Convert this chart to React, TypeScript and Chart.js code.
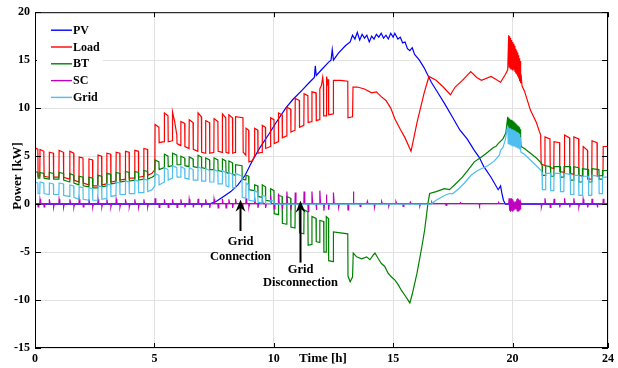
import React, { useEffect, useRef } from "react";
import { Chart, registerables } from "chart.js";

Chart.register(...registerables);

const FONT = '"Liberation Serif", "Times New Roman", serif';

const xTicks = [0, 5, 10, 15, 20, 24];
const yTicks = [-15, -10, -5, 0, 5, 10, 15, 20];

const seriesNames = ["PV", "Load", "BT", "SC", "Grid"];
const seriesColors = ["#0000ff", "#ff0000", "#008000", "#bf00bf", "#4dbeee"];

const pvData = [
  [0, 0], [7.3, 0], [7.6, 0.3], [7.9, 0.8], [8.2, 1.3], [8.5, 2.0], [8.8, 3.0], [9.1, 4.5], [9.4, 5.8],
  [9.8, 7.3], [10.1, 8.5], [10.5, 10.0], [10.8, 10.9], [11.2, 11.9], [11.5, 12.7], [11.7, 13.2], [11.74, 14.4],
  [11.78, 13.4], [12.0, 14.0], [12.3, 14.8], [12.4, 15.0], [12.45, 16.1], [12.5, 15.0], [12.7, 15.7], [13.0, 16.5],
  [13.2, 16.9], [13.3, 17.6], [13.4, 17.2], [13.5, 17.9], [13.6, 17.1], [13.7, 17.7], [13.8, 17.3], [13.9, 17.6],
  [14.0, 16.9], [14.1, 17.5], [14.2, 17.2], [14.3, 17.7], [14.4, 17.4], [14.5, 17.8], [14.6, 17.3], [14.7, 17.6],
  [14.8, 17.2], [14.9, 17.8], [15.0, 17.4], [15.07, 17.8], [15.2, 17.2], [15.3, 17.4], [15.4, 16.8], [15.5, 16.9],
  [15.6, 16.2], [15.7, 16.0], [15.8, 16.3], [15.9, 15.6], [16.1, 15.0], [16.3, 14.2], [16.6, 12.7], [16.9, 11.5],
  [17.15, 10.5], [17.5, 9.0], [17.8, 7.7], [18.1, 6.8], [18.4, 5.6], [18.6, 4.9], [18.8, 3.9], [19.1, 2.8],
  [19.4, 1.5], [19.5, 1.9], [19.55, 1.2], [19.62, 0.4], [19.7, 0], [24, 0],
];

const loadData = [
  [0, 5.9], [0.12, 5.7], [0.13, 2.9], [0.2, 2.9],
  [0.21, 5.7], [0.37, 5.5], [0.38, 2.9], [0.59, 2.8],
  [0.6, 5.4], [0.77, 5.3], [0.78, 2.8], [1.0, 2.8],
  [1.01, 5.6], [1.19, 5.4], [1.2, 2.8], [1.45, 2.6],
  [1.46, 5.5], [1.62, 5.3], [1.63, 2.5], [1.84, 2.3],
  [1.85, 4.9], [2.01, 4.8], [2.02, 2.2], [2.25, 2.0],
  [2.26, 4.7], [2.41, 4.6], [2.42, 1.9], [2.63, 1.9],
  [2.64, 5.1], [2.79, 5.0], [2.8, 2.0], [3.0, 2.1],
  [3.01, 5.3], [3.17, 5.2], [3.18, 2.3], [3.39, 2.4],
  [3.4, 5.4], [3.55, 5.3], [3.56, 2.5], [3.78, 2.6],
  [3.79, 5.5], [3.94, 5.4], [3.95, 2.7], [4.17, 2.7],
  [4.18, 5.6], [4.33, 5.5], [4.34, 2.8], [4.55, 2.9],
  [4.56, 5.8], [4.71, 5.7], [4.72, 3.0], [4.9, 3.2], [5.02, 3.6],
  [5.03, 8.3], [5.19, 8.0], [5.2, 6.4], [5.41, 6.5],
  [5.42, 9.5], [5.57, 9.2], [5.58, 6.5], [5.75, 6.6],
  [5.76, 9.6], [5.85, 8.6], [5.94, 7.2], [5.95, 6.3], [6.1, 6.1],
  [6.11, 8.6], [6.27, 8.4], [6.28, 6.0], [6.45, 5.8],
  [6.46, 8.8], [6.62, 8.5], [6.63, 5.7], [6.82, 5.5],
  [6.83, 9.5], [6.97, 9.1], [6.98, 5.4], [7.14, 5.3],
  [7.15, 8.7], [7.31, 8.5], [7.32, 5.3], [7.49, 5.4],
  [7.5, 8.9], [7.66, 8.6], [7.67, 5.5], [7.84, 5.4],
  [7.85, 9.4], [7.99, 9.0], [8.0, 5.4], [8.11, 5.3],
  [8.12, 9.3], [8.27, 9.0], [8.28, 5.3], [8.39, 5.4],
  [8.4, 9.1], [8.71, 9.0], [8.72, 5.4], [8.83, 5.1],
  [8.84, 7.9], [8.95, 7.7], [8.96, 4.4], [9.1, 4.5], [9.19, 5.0],
  [9.2, 7.9], [9.33, 7.7], [9.34, 5.3], [9.51, 5.4],
  [9.52, 8.2], [9.65, 8.0], [9.66, 5.8], [9.86, 6.0],
  [9.87, 9.0], [10.01, 8.8], [10.02, 6.3], [10.19, 6.5],
  [10.2, 9.5], [10.35, 9.3], [10.36, 6.9], [10.54, 7.1],
  [10.55, 10.1], [10.71, 9.9], [10.72, 7.5], [10.89, 7.7],
  [10.9, 11.0], [11.07, 10.8], [11.08, 8.0], [11.26, 8.2],
  [11.27, 11.5], [11.43, 11.3], [11.44, 8.5], [11.59, 8.6],
  [11.6, 11.7], [11.77, 11.6], [11.78, 8.7], [11.92, 8.8],
  [11.93, 12.0], [12.0, 12.4], [12.05, 13.2], [12.08, 12.5], [12.09, 9.2], [12.19, 9.2],
  [12.2, 12.8], [12.23, 13.3], [12.26, 12.6], [12.29, 13.0], [12.3, 9.3], [12.49, 9.4],
  [12.5, 12.9], [12.8, 12.9], [13.1, 12.8], [13.11, 9.0], [13.3, 9.1],
  [13.32, 12.2], [13.5, 12.2], [13.8, 12.0], [14.1, 11.6], [14.3, 11.7], [14.5, 11.2], [14.7, 10.8],
  [14.9, 10.0], [15.07, 8.9], [15.3, 7.8], [15.5, 6.9], [15.75, 5.5],
  [16.0, 8.5], [16.3, 11.6], [16.5, 13.3], [16.8, 12.9], [17.1, 12.2], [17.4, 11.4], [17.6, 12.2],
  [17.9, 12.9], [18.25, 13.8], [18.5, 13.2], [18.7, 12.9], [19.1, 13.3], [19.3, 13.0], [19.5, 12.7],
  [19.7, 13.5], [19.8, 14.0],
  [19.84, 17.6], [19.86, 14.3], [19.88, 17.5], [19.9, 14.2], [19.92, 17.3], [19.94, 14.1], [19.96, 17.1],
  [19.98, 14.1], [20.0, 16.9], [20.02, 14.0], [20.04, 16.7], [20.06, 14.0], [20.08, 16.5], [20.1, 13.8],
  [20.12, 16.2], [20.14, 13.6], [20.16, 16.0], [20.18, 13.5], [20.2, 15.8], [20.22, 13.3], [20.24, 15.5],
  [20.26, 13.1], [20.28, 15.2], [20.3, 12.8], [20.32, 14.9], [20.34, 12.6], [20.36, 13.5],
  [20.4, 12.3], [20.5, 11.8], [20.75, 9.8], [21.0, 8.5], [21.12, 7.6], [21.18, 7.2], [21.2, 4.2], [21.35, 4.0],
  [21.36, 7.0], [21.57, 6.8], [21.58, 3.8], [21.73, 3.7],
  [21.74, 6.5], [21.97, 6.4], [21.98, 3.4], [22.17, 3.3],
  [22.18, 7.2], [22.39, 6.9], [22.4, 3.2], [22.56, 3.1],
  [22.57, 7.0], [22.77, 6.8], [22.78, 3.0], [22.95, 2.9],
  [22.96, 6.0], [23.14, 5.6], [23.15, 2.6], [23.32, 2.6],
  [23.33, 6.6], [23.54, 6.4], [23.55, 2.9], [23.79, 3.0],
  [23.8, 6.0], [24, 6.0],
];

const btData = [
  [0, 3.4], [0.12, 3.3], [0.13, 2.7], [0.2, 2.7],
  [0.21, 3.3], [0.37, 3.2], [0.38, 2.7], [0.59, 2.6],
  [0.6, 3.3], [0.77, 3.2], [0.78, 2.6], [1.0, 2.6],
  [1.01, 3.3], [1.19, 3.2], [1.2, 2.5], [1.45, 2.3],
  [1.46, 3.2], [1.62, 3.0], [1.63, 2.2], [1.84, 2.0],
  [1.85, 2.9], [2.01, 2.8], [2.02, 1.9], [2.25, 1.8],
  [2.26, 2.8], [2.41, 2.7], [2.42, 1.7], [2.63, 1.7],
  [2.64, 3.0], [2.79, 2.9], [2.8, 1.8], [3.0, 1.9],
  [3.01, 3.2], [3.17, 3.1], [3.18, 2.1], [3.39, 2.2],
  [3.4, 3.3], [3.55, 3.2], [3.56, 2.3], [3.78, 2.4],
  [3.79, 3.4], [3.94, 3.3], [3.95, 2.4], [4.17, 2.5],
  [4.18, 3.4], [4.33, 3.3], [4.34, 2.5], [4.55, 2.6],
  [4.56, 3.5], [4.71, 3.4], [4.72, 2.6], [4.9, 2.8], [5.02, 3.0],
  [5.03, 4.6], [5.19, 4.4], [5.2, 3.6], [5.41, 3.8],
  [5.42, 5.2], [5.57, 5.0], [5.58, 3.9], [5.75, 4.0],
  [5.76, 5.3], [5.94, 5.1], [5.95, 4.1], [6.1, 4.1],
  [6.11, 5.0], [6.27, 4.8], [6.28, 4.0], [6.45, 3.9],
  [6.46, 4.9], [6.62, 4.7], [6.63, 3.9], [6.82, 3.8],
  [6.83, 5.1], [6.97, 4.9], [6.98, 3.8], [7.14, 3.7],
  [7.15, 4.8], [7.31, 4.6], [7.32, 3.6], [7.49, 3.6],
  [7.5, 4.8], [7.66, 4.6], [7.67, 3.5], [7.84, 3.4],
  [7.85, 4.7], [7.99, 4.5], [8.0, 3.3], [8.11, 3.2],
  [8.12, 4.5], [8.27, 4.3], [8.28, 3.1], [8.39, 3.0],
  [8.4, 4.1], [8.67, 4.0], [8.68, 2.6], [8.83, 2.5],
  [8.84, 3.0], [8.95, 2.9], [8.96, 1.5], [9.19, 1.4],
  [9.2, 2.0], [9.33, 1.9], [9.34, 0.8], [9.51, 0.7],
  [9.52, 2.0], [9.65, 1.8], [9.66, 0.4], [9.86, 0.3],
  [9.87, 1.6], [10.01, 1.4], [10.02, -1.0], [10.19, -1.1],
  [10.2, 0.9], [10.35, 0.8], [10.36, -2.0], [10.54, -2.1],
  [10.55, 0.8], [10.71, 0.6], [10.72, -2.4], [10.89, -2.5],
  [10.9, 0.1], [11.07, -0.1], [11.08, -3.0], [11.26, -3.1],
  [11.27, -0.6], [11.43, -0.8], [11.44, -4.3], [11.59, -4.2],
  [11.6, -1.3], [11.77, -1.5], [11.78, -3.9], [11.92, -4.0],
  [11.93, -1.7], [12.09, -1.8], [12.1, -5.0], [12.19, -5.0],
  [12.2, -1.3], [12.29, -1.5], [12.3, -5.9], [12.49, -6.0],
  [12.5, -2.9], [12.8, -3.0], [13.1, -3.1], [13.11, -7.5], [13.2, -8.1], [13.3, -7.6],
  [13.33, -5.1], [13.47, -5.5], [13.68, -5.7], [13.89, -5.5], [14.03, -5.8], [14.17, -5.3], [14.24, -5.1],
  [14.38, -5.7], [14.51, -6.2], [14.65, -6.5], [14.79, -7.2], [14.93, -7.6], [15.07, -7.9], [15.21, -8.4],
  [15.35, -9.0], [15.49, -9.5], [15.6, -9.9], [15.7, -10.3], [15.8, -9.4], [16.0, -7.2], [16.2, -4.5],
  [16.32, -2.7], [16.46, 0.1], [16.53, 1.1], [16.8, 1.3], [17.15, 1.6], [17.36, 1.5], [17.7, 2.3],
  [17.9, 2.8], [18.12, 3.5], [18.4, 4.4], [18.7, 4.9], [18.96, 5.4], [19.2, 5.9], [19.3, 6.0], [19.4, 6.3],
  [19.6, 6.8], [19.72, 7.4], [19.8, 9.1],
  [19.82, 7.6], [19.84, 9.0], [19.86, 7.5], [19.88, 8.9], [19.9, 7.5], [19.92, 8.8], [19.94, 7.4],
  [19.96, 8.8], [19.98, 7.4], [20.0, 8.7], [20.02, 7.3], [20.04, 8.6], [20.06, 7.3], [20.08, 8.5],
  [20.1, 7.2], [20.12, 8.4], [20.14, 7.2], [20.16, 8.3], [20.18, 7.1], [20.2, 8.2], [20.22, 7.1],
  [20.24, 8.1], [20.26, 7.0], [20.28, 8.0], [20.3, 6.9], [20.32, 7.8], [20.34, 6.7], [20.36, 6.0],
  [20.5, 5.8], [20.75, 5.3], [21.0, 4.8], [21.2, 4.3],
  [21.24, 4.0], [21.25, 3.0], [21.38, 3.0], [21.39, 4.0], [21.59, 3.9], [21.6, 2.9], [21.73, 2.9],
  [21.74, 3.9], [22.0, 3.9], [22.01, 2.8], [22.15, 2.8], [22.16, 3.9], [22.42, 3.9], [22.43, 2.5],
  [22.56, 2.5], [22.57, 3.9], [22.77, 3.8], [22.78, 2.3], [22.92, 2.3], [22.93, 3.7], [23.18, 3.6],
  [23.19, 2.3], [23.32, 2.3], [23.33, 3.7], [23.62, 3.6], [23.63, 2.6], [23.76, 2.6], [23.77, 3.5], [24, 3.5],
];

const scData = [
  [0, 0.05], [0.12, 0.05], [0.13, -0.3], [0.16, 0.05], [0.2, 0.05], [0.21, 0.5], [0.24, 0.05],
  [0.37, 0.05], [0.38, -0.3], [0.41, 0.05], [0.59, 0.05], [0.6, 0.5], [0.63, 0.05], [0.77, 0.05],
  [0.78, -0.3], [0.81, 0.05], [1.0, 0.05], [1.01, 0.5], [1.04, 0.05], [1.19, 0.05], [1.2, -0.3],
  [1.23, 0.05], [1.45, 0.05], [1.46, 0.5], [1.49, 0.05], [1.62, 0.05], [1.63, -0.3], [1.66, 0.05],
  [1.84, 0.05], [1.85, 0.5], [1.88, 0.05], [2.01, 0.05], [2.02, -0.3], [2.05, 0.05], [2.25, 0.05],
  [2.26, 0.5], [2.29, 0.05], [2.41, 0.05], [2.42, -0.3], [2.45, 0.05], [2.63, 0.05], [2.64, 0.5],
  [2.67, 0.05], [2.79, 0.05], [2.8, -0.3], [2.83, 0.05], [3.0, 0.05], [3.01, 0.5], [3.04, 0.05],
  [3.17, 0.05], [3.18, -0.3], [3.21, 0.05], [3.39, 0.05], [3.4, 0.5], [3.43, 0.05], [3.55, 0.05],
  [3.56, -0.3], [3.59, 0.05], [3.78, 0.05], [3.79, 0.5], [3.82, 0.05], [3.94, 0.05], [3.95, -0.3],
  [3.98, 0.05], [4.17, 0.05], [4.18, 0.5], [4.21, 0.05], [4.33, 0.05], [4.34, -0.3], [4.37, 0.05],
  [4.55, 0.05], [4.56, 0.5], [4.59, 0.05], [4.71, 0.05], [4.72, -0.3], [4.75, 0.05], [5.02, 0.05],
  [5.03, 0.6], [5.06, 0.05], [5.19, 0.05], [5.2, -0.35], [5.23, 0.05], [5.41, 0.05], [5.42, 0.5],
  [5.45, 0.05], [5.57, 0.05], [5.58, -0.35], [5.61, 0.05], [5.75, 0.05], [5.76, 0.5], [5.79, 0.05],
  [5.94, 0.05], [5.95, -0.35], [5.98, 0.05], [6.1, 0.05], [6.11, 0.5], [6.14, 0.05], [6.27, 0.05],
  [6.28, -0.35], [6.31, 0.05], [6.45, 0.05], [6.46, 0.5], [6.49, 0.05], [6.62, 0.05], [6.63, -0.35],
  [6.66, 0.05], [6.82, 0.05], [6.83, 0.55], [6.86, 0.05], [6.97, 0.05], [6.98, -0.35], [7.01, 0.05],
  [7.14, 0.05], [7.15, 0.5], [7.18, 0.05], [7.31, 0.05], [7.32, -0.4], [7.35, 0.05], [7.49, 0.05],
  [7.5, 0.5], [7.53, 0.05], [7.66, 0.05], [7.67, -0.4], [7.7, 0.05], [7.84, 0.05], [7.85, 0.55],
  [7.88, 0.05], [7.99, 0.05], [8.0, -0.4], [8.03, 0.05], [8.11, 0.05], [8.12, 0.5], [8.15, 0.05],
  [8.27, 0.05], [8.28, -0.4], [8.31, 0.05], [8.39, 0.05], [8.4, 0.55], [8.43, 0.05], [8.67, 0.05],
  [8.68, -0.4], [8.71, 0.05], [8.83, 0.05],
  [8.84, 0.6], [8.87, 0.05], [8.95, 0.05], [8.96, -0.3], [8.99, 0.05], [9.19, 0.05], [9.2, 0.7],
  [9.23, 0.05], [9.33, 0.05], [9.34, -0.4], [9.37, 0.05], [9.51, 0.05], [9.52, 0.6], [9.55, 0.05],
  [9.65, 0.05], [9.66, -0.4], [9.69, 0.05], [9.86, 0.05], [9.87, 0.9], [9.9, 0.05], [10.01, 0.05],
  [10.02, -0.5], [10.05, 0.05], [10.19, 0.05], [10.2, 1.1], [10.23, 0.05], [10.35, 0.05], [10.36, -0.5],
  [10.39, 0.05], [10.54, 0.05], [10.55, 1.3], [10.58, 0.05], [10.71, 0.05], [10.72, -0.6], [10.75, 0.05],
  [10.89, 0.05], [10.9, 1.2], [10.93, 0.05], [11.07, 0.05], [11.08, -0.7], [11.11, 0.05], [11.26, 0.05],
  [11.27, 1.3], [11.3, 0.05], [11.43, 0.05], [11.44, -0.8], [11.47, 0.05], [11.59, 0.05], [11.6, 1.3],
  [11.63, 0.05], [11.77, 0.05], [11.78, -0.6], [11.81, 0.05], [11.92, 0.05], [11.93, 1.4], [11.96, 0.05],
  [12.09, 0.05], [12.1, -0.7], [12.13, 0.05], [12.19, 0.05], [12.2, 1.0], [12.23, 0.05], [12.29, 0.05],
  [12.3, -0.6], [12.33, 0.05], [12.49, 0.05], [12.5, 1.2], [12.53, 0.05], [12.7, 0.05], [12.72, -0.3],
  [12.75, 0.05], [13.1, 0.05], [13.11, -0.6], [13.14, 0.05], [13.32, 0.05], [13.33, 1.3], [13.36, 0.05],
  [13.6, 0.05], [13.62, -0.25], [13.65, 0.05], [13.9, 0.05], [13.92, 0.3], [13.95, 0.05], [14.2, 0.05],
  [14.22, -0.3], [14.25, 0.05], [14.5, 0.05], [14.52, 0.25], [14.55, 0.05], [14.8, 0.05], [14.82, -0.2],
  [14.85, 0.05], [15.1, 0.05], [15.12, 0.25], [15.15, 0.05], [15.4, 0.05], [15.42, -0.25], [15.45, 0.05],
  [15.7, 0.05], [15.72, 0.2], [15.75, 0.05], [16.1, 0.05], [16.12, -0.2], [16.15, 0.05], [16.6, 0.05],
  [16.62, 0.2], [16.65, 0.05], [17.2, 0.05], [17.22, -0.15], [17.25, 0.05], [17.8, 0.05], [17.82, 0.15],
  [17.85, 0.05], [18.6, 0.05], [18.62, -0.15], [18.65, 0.05], [19.4, 0.05], [19.42, 0.15], [19.45, 0.05],
  [19.84, 0.05],
  [19.86, 0.6], [19.88, -0.7], [19.9, 0.5], [19.92, -0.8], [19.94, 0.6], [19.96, -0.7], [19.98, 0.4],
  [20.0, -0.8], [20.02, 0.5], [20.04, -0.6], [20.06, 0.3], [20.08, -0.5], [20.1, 0.2], [20.12, -0.4],
  [20.14, 0.3], [20.16, -0.5], [20.18, 0.5], [20.2, -0.7], [20.22, 0.6], [20.24, -0.7], [20.26, 0.5],
  [20.28, -0.6], [20.3, 0.4], [20.32, -0.5], [20.34, 0.2], [20.36, 0.05],
  [21.2, 0.05], [21.21, -0.3], [21.24, 0.05], [21.35, 0.05], [21.36, 0.6], [21.39, 0.05], [21.57, 0.05],
  [21.58, -0.35], [21.61, 0.05], [21.73, 0.05], [21.74, 0.55], [21.77, 0.05], [21.97, 0.05], [21.98, -0.35],
  [22.01, 0.05], [22.17, 0.05], [22.18, 0.6], [22.21, 0.05], [22.39, 0.05], [22.4, -0.35], [22.43, 0.05],
  [22.56, 0.05], [22.57, 0.6], [22.6, 0.05], [22.77, 0.05], [22.78, -0.3], [22.81, 0.05], [22.95, 0.05],
  [22.96, 0.5], [22.99, 0.05], [23.14, 0.05], [23.15, -0.35], [23.18, 0.05], [23.32, 0.05], [23.33, 0.55],
  [23.36, 0.05], [23.54, 0.05], [23.55, -0.35], [23.58, 0.05], [23.79, 0.05], [23.8, 0.55], [23.83, 0.05],
  [24, 0.05],
];

const gridData = [
  [0, 2.3], [0.12, 2.2], [0.13, 1.1], [0.2, 1.1],
  [0.21, 2.3], [0.37, 2.2], [0.38, 1.1], [0.59, 1.0],
  [0.6, 2.2], [0.77, 2.1], [0.78, 1.0], [1.0, 1.0],
  [1.01, 2.2], [1.19, 2.1], [1.2, 0.9], [1.45, 0.8],
  [1.46, 2.0], [1.62, 1.9], [1.63, 0.7], [1.84, 0.5],
  [1.85, 1.8], [2.01, 1.7], [2.02, 0.5], [2.25, 0.4],
  [2.26, 1.7], [2.41, 1.6], [2.42, 0.4], [2.63, 0.4],
  [2.64, 1.9], [2.79, 1.8], [2.8, 0.5], [3.0, 0.6],
  [3.01, 2.1], [3.17, 2.0], [3.18, 0.8], [3.39, 0.9],
  [3.4, 2.3], [3.55, 2.2], [3.56, 1.0], [3.78, 1.0],
  [3.79, 2.4], [3.94, 2.3], [3.95, 1.1], [4.17, 1.1],
  [4.18, 2.5], [4.33, 2.4], [4.34, 1.2], [4.55, 1.2],
  [4.56, 2.6], [4.71, 2.5], [4.72, 1.3], [4.9, 1.5], [5.02, 1.9],
  [5.03, 3.2], [5.19, 3.0], [5.2, 2.0], [5.41, 2.3],
  [5.42, 3.8], [5.57, 3.6], [5.58, 2.5], [5.75, 2.7],
  [5.76, 4.0], [5.94, 3.8], [5.95, 2.8], [6.1, 2.8],
  [6.11, 3.9], [6.27, 3.7], [6.28, 2.7], [6.45, 2.6],
  [6.46, 3.8], [6.62, 3.6], [6.63, 2.5], [6.82, 2.5],
  [6.83, 3.9], [6.97, 3.7], [6.98, 2.4], [7.14, 2.4],
  [7.15, 3.7], [7.31, 3.5], [7.32, 2.3], [7.49, 2.3],
  [7.5, 3.6], [7.66, 3.4], [7.67, 2.1], [7.84, 2.1],
  [7.85, 3.5], [7.99, 3.3], [8.0, 1.9], [8.11, 1.8],
  [8.12, 3.3], [8.27, 3.1], [8.28, 1.7], [8.39, 1.7],
  [8.4, 3.2], [8.67, 2.9], [8.68, 0.7], [8.83, 0.6],
  [8.84, 2.2], [8.95, 2.0], [8.96, 0.4], [9.19, 0.3],
  [9.2, 1.4], [9.33, 1.2], [9.34, 0.2], [9.51, 0.1],
  [9.52, 0.9], [9.65, 0.8], [9.66, 0.05], [9.86, 0.05],
  [9.87, 0.4], [10.01, 0.3], [10.02, 0],
  [16.6, 0], [16.8, 0.4], [17.15, 0.9], [17.36, 1.1], [17.5, 1.1], [17.7, 1.5], [17.99, 2.2],
  [18.26, 3.0], [18.54, 3.5], [18.96, 4.0], [19.24, 4.5], [19.45, 5.1], [19.5, 5.6], [19.6, 5.9],
  [19.7, 6.7], [19.8, 8.2],
  [19.82, 6.3], [19.84, 8.0], [19.86, 6.3], [19.88, 7.9], [19.9, 6.2], [19.92, 7.9], [19.94, 6.2],
  [19.96, 7.8], [19.98, 6.1], [20.0, 7.8], [20.02, 6.1], [20.04, 7.7], [20.06, 6.0], [20.08, 7.7],
  [20.1, 6.0], [20.12, 7.6], [20.14, 5.9], [20.16, 7.5], [20.18, 5.9], [20.2, 7.5], [20.22, 5.8],
  [20.24, 7.4], [20.26, 5.8], [20.28, 7.3], [20.3, 5.7], [20.32, 7.0], [20.34, 5.6], [20.36, 5.4],
  [20.5, 5.2], [20.75, 4.6], [21.0, 4.0], [21.2, 3.5],
  [21.24, 3.3], [21.25, 1.5], [21.38, 1.5], [21.39, 3.2], [21.59, 3.2], [21.6, 1.4], [21.73, 1.4],
  [21.74, 3.2], [22.0, 3.2], [22.01, 1.3], [22.15, 1.3], [22.16, 3.2], [22.42, 3.1], [22.43, 1.0],
  [22.56, 1.0], [22.57, 3.0], [22.77, 3.0], [22.78, 0.9], [22.92, 0.9], [22.93, 2.9], [23.18, 2.9],
  [23.19, 0.9], [23.32, 0.9], [23.33, 3.0], [23.62, 2.9], [23.63, 1.1], [23.76, 1.1], [23.77, 2.8], [24, 2.8],
];

const annotations = [
  { t: 8.58, tip: 0.45, tail: -2.8, lines: ["Grid", "Connection"], textV: [-3.95, -5.5] },
  { t: 11.12, tip: 0.35, tail: -6.1, lines: ["Grid", "Disconnection"], textV: [-6.8, -8.15] },
];

export default function App() {
  const ref = useRef<HTMLCanvasElement>(null);

  useEffect(() => {
    const toPts = (a: number[][]) => a.map(([x, y]) => ({ x, y }));
    const all = [pvData, loadData, btData, scData, gridData];
    const datasets = all
      .map((d, i) => ({
        label: seriesNames[i],
        data: toPts(d),
        borderColor: seriesColors[i],
        backgroundColor: seriesColors[i],
        borderWidth: 1.2,
        pointRadius: 0,
        fill: false,
        tension: 0,
      }))
      .reverse();

    const decor = {
      id: "decor",
      afterDatasetsDraw(chart: any) {
        const { ctx, chartArea: ca, scales } = chart;
        const xs = scales.x;
        const ys = scales.y;
        ctx.save();

        // inward tick marks
        ctx.strokeStyle = "#000";
        ctx.lineWidth = 1;
        ctx.beginPath();
        xTicks.forEach((v) => {
          const px = Math.round(xs.getPixelForValue(v)) + 0.5;
          ctx.moveTo(px, ca.bottom);
          ctx.lineTo(px, ca.bottom - 5);
          ctx.moveTo(px, ca.top);
          ctx.lineTo(px, ca.top + 5);
        });
        yTicks.forEach((v) => {
          const py = Math.round(ys.getPixelForValue(v)) + 0.5;
          ctx.moveTo(ca.left, py);
          ctx.lineTo(ca.left + 6, py);
          ctx.moveTo(ca.right, py);
          ctx.lineTo(ca.right - 6, py);
        });
        ctx.stroke();

        // legend
        const lx = ca.left + 2;
        const ly = ca.top + 2;
        ctx.fillStyle = "#fff";
        ctx.fillRect(lx, ly, 66, 91);
        ctx.font = `bold 12px ${FONT}`;
        ctx.textBaseline = "middle";
        ctx.textAlign = "left";
        seriesNames.forEach((name, i) => {
          const yy = ca.top + 18 + i * 16.8;
          ctx.strokeStyle = seriesColors[i];
          ctx.lineWidth = 1.4;
          ctx.beginPath();
          ctx.moveTo(ca.left + 16, yy);
          ctx.lineTo(ca.left + 37, yy);
          ctx.stroke();
          ctx.fillStyle = "#000";
          ctx.fillText(name, ca.left + 38, yy + 0.5);
        });

        // frame
        ctx.strokeStyle = "#000";
        ctx.lineWidth = 1;
        ctx.strokeRect(ca.left + 0.5, ca.top + 0.5, ca.right - ca.left - 1, ca.bottom - ca.top - 1);

        // annotations
        annotations.forEach((a) => {
          const px = Math.round(xs.getPixelForValue(a.t)) + 0.5;
          const tip = ys.getPixelForValue(a.tip);
          const tail = ys.getPixelForValue(a.tail);
          ctx.strokeStyle = "#000";
          ctx.lineWidth = 2;
          ctx.beginPath();
          ctx.moveTo(px, tail);
          ctx.lineTo(px, tip + 6);
          ctx.stroke();
          ctx.fillStyle = "#000";
          ctx.beginPath();
          ctx.moveTo(px, tip);
          ctx.lineTo(px - 5, tip + 12);
          ctx.lineTo(px, tip + 8);
          ctx.lineTo(px + 5, tip + 12);
          ctx.closePath();
          ctx.fill();
          ctx.font = `bold 12.5px ${FONT}`;
          ctx.textAlign = "center";
          ctx.textBaseline = "middle";
          a.lines.forEach((s, k) => {
            ctx.fillText(s, px, ys.getPixelForValue(a.textV[k]));
          });
        });

        // axis titles
        ctx.fillStyle = "#000";
        ctx.font = `bold 13px ${FONT}`;
        ctx.textAlign = "center";
        ctx.textBaseline = "middle";
        ctx.fillText("Time [h]", 323, 359);
        ctx.save();
        ctx.translate(18, 176);
        ctx.rotate(-Math.PI / 2);
        ctx.fillText("Power [kW]", 0, 0);
        ctx.restore();

        ctx.restore();
      },
    };

    const tickFont = { family: FONT, weight: "bold" as const, size: 12 };

    const chart = new Chart(ref.current as HTMLCanvasElement, {
      type: "line",
      data: { datasets: datasets as any },
      options: {
        responsive: false,
        devicePixelRatio: 1,
        animation: false,
        parsing: false as any,
        layout: { padding: { top: 12, right: 9, left: 0, bottom: 0 } },
        plugins: { legend: { display: false }, tooltip: { enabled: false } },
        scales: {
          x: {
            type: "linear",
            min: 0,
            max: 24,
            afterBuildTicks: (s: any) => {
              s.ticks = xTicks.map((v) => ({ value: v }));
            },
            afterFit: (s: any) => {
              s.height = 20;
            },
            grid: { color: "#e2e2e2", drawTicks: false, lineWidth: 1 },
            border: { display: false },
            ticks: { font: tickFont, color: "#000", padding: 4, maxRotation: 0, autoSkip: false },
          },
          y: {
            type: "linear",
            min: -15,
            max: 20,
            afterBuildTicks: (s: any) => {
              s.ticks = yTicks.map((v) => ({ value: v }));
            },
            afterFit: (s: any) => {
              s.width = 35;
            },
            grid: { color: "#e2e2e2", drawTicks: false, lineWidth: 1 },
            border: { display: false },
            ticks: { font: tickFont, color: "#000", padding: 5, autoSkip: false },
          },
        },
      },
      plugins: [decor],
    });
    return () => chart.destroy();
  }, []);

  return (
    <div style={{ position: "fixed", left: 0, top: 0, width: 618, height: 368, background: "#fff" }}>
      <canvas ref={ref} width={618} height={368} style={{ display: "block", width: 618, height: 368 }} />
    </div>
  );
}
